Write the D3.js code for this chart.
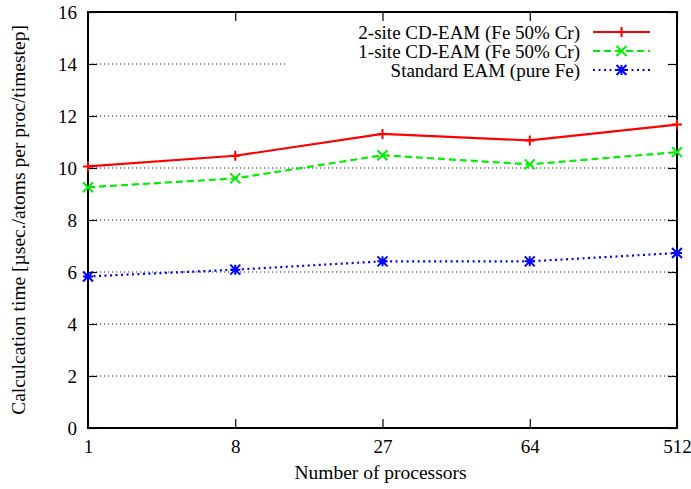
<!DOCTYPE html>
<html>
<head>
<meta charset="utf-8">
<script src="https://cdn.jsdelivr.net/npm/d3@7"></script>
<style>
  body { margin: 0; background: #fff; }
  text { font-family: "Liberation Serif", "Times New Roman", serif; fill: #000; }
</style>
</head>
<body>
<svg id="chart" width="691" height="489"></svg>
<script>
// ------- Data -------
const processors = ['1', '8', '27', '64', '512'];
const twoSite = [10.06, 10.47, 11.31, 11.06, 11.67];
const oneSite = [9.26, 9.60, 10.49, 10.14, 10.61];
const standardEam = [5.83, 6.09, 6.41, 6.41, 6.73];
const yTicks = [0, 2, 4, 6, 8, 10, 12, 14, 16];

const seriesNames = ['2-site CD-EAM (Fe 50% Cr)', '1-site CD-EAM (Fe 50% Cr)', 'Standard EAM (pure Fe)'];
const seriesValues = [twoSite, oneSite, standardEam];

const styles = [
    {colour: '#ff0000', dash: null, marker: 'plus'},
    {colour: '#00ee00', dash: '7,4', marker: 'cross'},
    {colour: '#0000ff', dash: '2,3.5', marker: 'star'}
];

// ------- Set up -------
const svg = d3.select('#chart');
const margin = {top: 12, right: 14, bottom: 61, left: 88};
const width = +svg.attr('width');
const height = +svg.attr('height');
const innerWidth = width - margin.left - margin.right;
const innerHeight = height - margin.top - margin.bottom;

const g = svg.append('g')
    .attr('transform', `translate(${margin.left}, ${margin.top})`);

const x = d3.scalePoint().domain(processors).range([0, innerWidth]);
const y = d3.scaleLinear().domain([0, 16]).range([innerHeight, 0]);

// ------- Grid lines -------
g.append('g')
    .attr('class', 'grid')
    .selectAll('line')
    .data(yTicks.filter(d => d > 0 && d < 16))
    .enter()
    .append('line')
        .attr('x1', 0)
        .attr('x2', innerWidth)
        .attr('y1', d => y(d))
        .attr('y2', d => y(d))
        .attr('stroke', '#222')
        .attr('stroke-width', 1)
        .attr('stroke-dasharray', '1.2,2.8');

// ------- Legend background (hides grid behind it) -------
g.append('rect')
    .attr('x', 200)
    .attr('y', 10)
    .attr('width', innerWidth - 202)
    .attr('height', 66)
    .attr('fill', '#fff');

// ------- Axes (gnuplot style: inward ticks, mirrored) -------
const tickLen = 9;
const fontSize = 19;

const yAxis = g.append('g')
    .call(d3.axisLeft(y).tickValues(yTicks).tickSize(-tickLen).tickPadding(11));
const yAxisRight = g.append('g')
    .attr('transform', `translate(${innerWidth}, 0)`)
    .call(d3.axisRight(y).tickValues(yTicks).tickSize(-tickLen));
const xAxis = g.append('g')
    .attr('transform', `translate(0, ${innerHeight})`)
    .call(d3.axisBottom(x).tickSize(-tickLen).tickPadding(11.5));
const xAxisTop = g.append('g')
    .call(d3.axisTop(x).tickSize(-tickLen));

// mirrored axes carry no labels
yAxisRight.selectAll('.tick text').remove();
xAxisTop.selectAll('.tick text').remove();

[yAxis, yAxisRight, xAxis, xAxisTop].forEach(a => {
    a.select('.domain').remove();
    a.selectAll('.tick line').attr('stroke', '#000').attr('stroke-width', 1.2);
    a.selectAll('.tick text')
        .style('font-family', '"Liberation Serif", serif')
        .style('font-size', fontSize + 'px')
        .attr('fill', '#000');
});

g.append('rect')
    .attr('width', innerWidth)
    .attr('height', innerHeight)
    .attr('fill', 'none')
    .attr('stroke', '#000')
    .attr('stroke-width', 2);

// ------- Axis titles -------
svg.append('text')
    .attr('x', margin.left + innerWidth / 2 - 2)
    .attr('y', 479)
    .attr('text-anchor', 'middle')
    .style('font-size', '19.5px')
    .text('Number of processors');

svg.append('text')
    .attr('transform', `translate(25, ${margin.top + innerHeight / 2}) rotate(-90)`)
    .attr('text-anchor', 'middle')
    .style('font-size', '19.5px')
    .text('Calculcation time [µsec./atoms per proc/timestep]');

// ------- Markers -------
const markerPath = (type, s) => {
    const plus = `M${-s},0H${s}M0,${-s}V${s}`;
    const cross = `M${-s},${-s}L${s},${s}M${-s},${s}L${s},${-s}`;
    if (type === 'plus') return plus;
    if (type === 'cross') return cross;
    return plus + cross;
};

const line = d3.line()
    .x(d => x(d.p))
    .y(d => y(d.v));

seriesValues.forEach((values, i) => {
    const st = styles[i];
    const data = processors.map((p, j) => ({p, v: values[j]}));
    const s = g.append('g').attr('class', 'series');

    s.append('path')
        .datum(data)
        .attr('d', line)
        .attr('fill', 'none')
        .attr('stroke', st.colour)
        .attr('stroke-width', 2.2)
        .attr('stroke-dasharray', st.dash);

    s.selectAll('path.marker')
        .data(data)
        .enter()
        .append('path')
            .attr('class', 'marker')
            .attr('transform', d => `translate(${x(d.p)}, ${y(d.v)})`)
            .attr('d', markerPath(st.marker, 5))
            .attr('stroke', st.colour)
            .attr('stroke-width', 2)
            .attr('fill', 'none');
});

// ------- Legend -------
const legend = g.append('g')
    .attr('transform', `translate(${innerWidth - 27}, 20)`);

const legendItem = legend.selectAll('g')
    .data(seriesNames)
    .enter()
    .append('g')
        .attr('transform', (d, i) => `translate(0, ${i * 19})`);

legendItem.append('text')
    .attr('x', -70)
    .attr('dy', '0.35em')
    .attr('text-anchor', 'end')
    .style('font-size', fontSize + 'px')
    .text(d => d);

legendItem.append('line')
    .attr('x1', -57)
    .attr('x2', 0)
    .attr('stroke', (d, i) => styles[i].colour)
    .attr('stroke-width', 2.2)
    .attr('stroke-dasharray', (d, i) => styles[i].dash);

legendItem.append('path')
    .attr('transform', 'translate(-28.5, 0)')
    .attr('d', (d, i) => markerPath(styles[i].marker, 5))
    .attr('stroke', (d, i) => styles[i].colour)
    .attr('stroke-width', 2)
    .attr('fill', 'none');
</script>
</body>
</html>
